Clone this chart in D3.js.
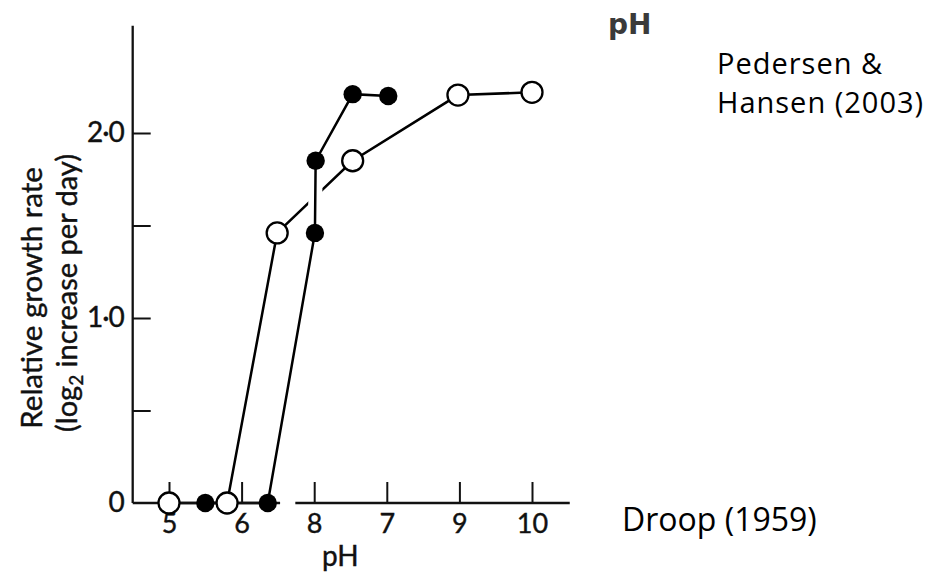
<!DOCTYPE html>
<html>
<head>
<meta charset="utf-8">
<script src="https://cdn.jsdelivr.net/npm/d3@7"></script>
<style>
  html, body { margin: 0; padding: 0; background: #fff; }
  svg { display: block; }
</style>
</head>
<body>
<svg id="chart" width="947" height="574"></svg>
<script>
// ---------- data ----------
const xTickValues = [5, 6, 7, 8, 9, 10];
const xTickLabels = ["5", "6", "8", "7", "9", "10"];
const yTickValues = [0, 0.5, 1, 1.5, 2];
const yTickLabels = ["0", "", "1·0", "", "2·0"];

// open circles
const openPH   = [5.0, 5.8, 6.49, 7.53, 8.98, 10.0];
const openRate = [0,   0,   1.46, 1.85, 2.205, 2.22];
// filled circles
const filledPH   = [5.5, 6.36, 7.01, 7.02, 7.53, 8.02];
const filledRate = [0,   0,    1.46, 1.85, 2.21, 2.20];

const xAxisExtent = [4.5, 10.52];
const xAxisBreak = [6.53, 6.74];
const yAxisExtent = [0, 2.58];

const yTitle1 = "Relative growth rate";
const yTitle2a = "(log";
const yTitle2sub = "2";
const yTitle2b = " increase per day)";
const xTitle = "pH";
const cornerLabel = "pH";
const note1 = ["Pedersen &", "Hansen (2003)"];
const note2 = "Droop (1959)";

// ---------- drawing ----------
const svg = d3.select("#chart");
const x = d3.scaleLinear().domain([5, 10]).range([169, 532]);
const y = d3.scaleLinear().domain([0, 2]).range([503, 133]);
const font = "Lato, 'Open Sans', sans-serif";
const ink = "#111";

const openPts = openPH.map((p, i) => [p, openRate[i]]);
const filledPts = filledPH.map((p, i) => [p, filledRate[i]]);
const line = d3.line().x(d => x(d[0])).y(d => y(d[1]));

// open series line
svg.append("path").attr("d", line(openPts))
  .attr("fill", "none").attr("stroke", "#000").attr("stroke-width", 2.5);

// white halo to break the crossing line
svg.append("path").attr("d", line(filledPts.slice(2, 4)))
  .attr("fill", "none").attr("stroke", "#fff").attr("stroke-width", 14);

// filled series line
svg.append("path").attr("d", line(filledPts))
  .attr("fill", "none").attr("stroke", "#000").attr("stroke-width", 2.5);

// axes lines
svg.append("line")
  .attr("x1", x(xAxisExtent[0])).attr("x2", x(xAxisExtent[0]))
  .attr("y1", y(yAxisExtent[0])).attr("y2", y(yAxisExtent[1]))
  .attr("stroke", ink).attr("stroke-width", 2.3);
svg.append("line")
  .attr("x1", x(xAxisExtent[0])).attr("x2", x(xAxisBreak[0]))
  .attr("y1", y(0)).attr("y2", y(0))
  .attr("stroke", ink).attr("stroke-width", 2.3);
svg.append("line")
  .attr("x1", x(xAxisBreak[1])).attr("x2", x(xAxisExtent[1]))
  .attr("y1", y(0)).attr("y2", y(0))
  .attr("stroke", ink).attr("stroke-width", 2.3);

// x axis ticks & labels
const xAxis = d3.axisBottom(x)
  .tickValues(xTickValues)
  .tickFormat((d, i) => xTickLabels[i])
  .tickSizeInner(-21).tickSizeOuter(0).tickPadding(11);
const gx = svg.append("g").attr("transform", `translate(0,${y(0)})`).call(xAxis);
gx.select(".domain").remove();
gx.selectAll(".tick line").attr("stroke", ink).attr("stroke-width", 2);
gx.selectAll(".tick text").attr("font-family", font).attr("font-size", 27)
  .attr("fill", ink).attr("stroke", ink).attr("stroke-width", 0.4);

// y axis ticks & labels
const yAxis = d3.axisLeft(y)
  .tickValues(yTickValues)
  .tickFormat((d, i) => yTickLabels[i])
  .tickSizeInner(-18).tickSizeOuter(0).tickPadding(9);
const gy = svg.append("g").attr("transform", `translate(${x(xAxisExtent[0])},0)`).call(yAxis);
gy.select(".domain").remove();
gy.selectAll(".tick line").attr("stroke", ink).attr("stroke-width", 2);
gy.selectAll(".tick").filter(d => d === 0).select("line").remove();
gy.selectAll(".tick text").attr("font-family", font).attr("font-size", 28)
  .attr("letter-spacing", -1)
  .attr("fill", ink).attr("stroke", ink).attr("stroke-width", 0.4);

// circles
svg.append("g").selectAll("circle").data(openPts).join("circle")
  .attr("cx", d => x(d[0])).attr("cy", d => y(d[1])).attr("r", 10.5)
  .attr("fill", "#fff").attr("stroke", "#000").attr("stroke-width", 2.3);
svg.append("g").selectAll("circle").data(filledPts).join("circle")
  .attr("cx", d => x(d[0])).attr("cy", d => y(d[1])).attr("r", 9.2)
  .attr("fill", "#000");

// axis titles
svg.append("text").attr("transform", "translate(42,298) rotate(-90)")
  .attr("text-anchor", "middle").attr("font-family", font).attr("font-size", 29.5)
  .attr("fill", ink).attr("stroke", ink).attr("stroke-width", 0.4).text(yTitle1);
const t2 = svg.append("text").attr("transform", "translate(77,293) rotate(-90)")
  .attr("text-anchor", "middle").attr("font-family", font).attr("font-size", 29)
  .attr("fill", ink).attr("stroke", ink).attr("stroke-width", 0.4);
t2.append("tspan").text(yTitle2a);
t2.append("tspan").attr("font-size", 19).attr("dy", 6).text(yTitle2sub);
t2.append("tspan").attr("dy", -6).text(yTitle2b);

svg.append("text").attr("x", x(7.36)).attr("y", 566)
  .attr("text-anchor", "middle").attr("font-family", font).attr("font-size", 28)
  .attr("fill", ink).attr("stroke", ink).attr("stroke-width", 0.4).text(xTitle);

// right-hand annotations
svg.append("text").attr("x", 608).attr("y", 34)
  .attr("font-family", "'DejaVu Sans', sans-serif").attr("font-weight", "bold")
  .attr("font-size", 28).attr("fill", "#3a3a3a").text(cornerLabel);
svg.append("text").attr("font-family", "'Open Sans', sans-serif").attr("font-size", 29)
  .attr("letter-spacing", 1).attr("fill", "#000")
  .selectAll("tspan").data(note1).join("tspan")
  .attr("x", 717).attr("y", (d, i) => 74 + i * 39).text(d => d);
svg.append("text").attr("x", 622).attr("y", 531)
  .attr("font-family", "'Open Sans', sans-serif").attr("font-size", 32)
  .attr("fill", "#000").text(note2);
</script>
</body>
</html>
